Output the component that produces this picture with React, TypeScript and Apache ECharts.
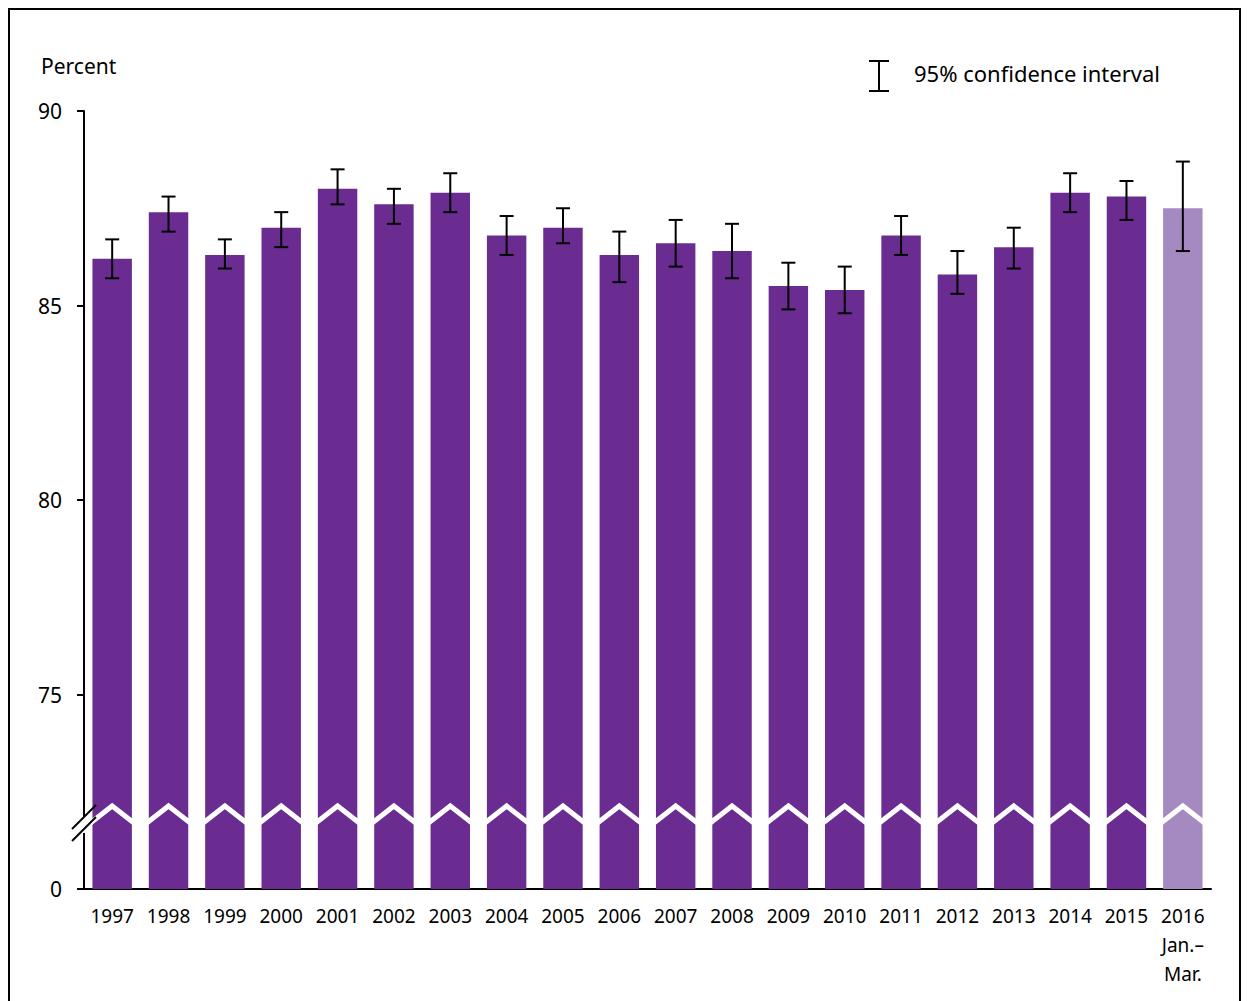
import * as echarts from 'echarts';
import React, { useEffect, useRef } from 'react';

const years = ['1997','1998','1999','2000','2001','2002','2003','2004','2005','2006','2007','2008','2009','2010','2011','2012','2013','2014','2015','2016\nJan.–\nMar.'];
const values = [86.2, 87.4, 86.3, 87.0, 88.0, 87.6, 87.9, 86.8, 87.0, 86.3, 86.6, 86.4, 85.5, 85.4, 86.8, 85.8, 86.5, 87.9, 87.8, 87.5];
const upper = [86.7, 87.8, 86.7, 87.4, 88.5, 88.0, 88.4, 87.3, 87.5, 86.9, 87.2, 87.1, 86.1, 86.0, 87.3, 86.4, 87.0, 88.4, 88.2, 88.7];
const lower = [85.7, 86.9, 85.95, 86.5, 87.6, 87.1, 87.4, 86.3, 86.6, 85.6, 86.0, 85.7, 84.9, 84.8, 86.3, 85.3, 85.95, 87.4, 87.2, 86.4];
const yTicks = [70, 75, 80, 85, 90];
const yLabels = ['0', '75', '80', '85', '90'];
const breakValue = 71.85;

const font = 'Noto Sans';

const App: React.FC = () => {
  const ref = useRef<HTMLDivElement>(null);

  useEffect(() => {
    const chart = echarts.init(ref.current, null, { renderer: 'svg' });
    chart.setOption({
      animation: false,
      textStyle: { fontFamily: font },
      grid: { left: 75, right: 31, top: 102, bottom: 120 },
      xAxis: {
        type: 'category',
        data: years,
        axisLine: { lineStyle: { color: '#000', width: 2 } },
        axisTick: { show: false },
        axisLabel: { color: '#000', fontSize: 19, lineHeight: 29, margin: 12, interval: 0, fontFamily: font },
      },
      yAxis: {
        type: 'value',
        min: 70,
        max: 90,
        interval: 5,
        axisLine: { show: true, lineStyle: { color: '#000', width: 2 } },
        axisTick: { show: true, length: 7, lineStyle: { color: '#000', width: 2 } },
        splitLine: { show: false },
        axisLabel: {
          color: '#000', fontSize: 21, margin: 22, fontFamily: font,
          formatter: (v: number) => yLabels[yTicks.indexOf(v)] ?? '',
        },
      },
      series: [
        {
          type: 'bar',
          barWidth: '70%',
          data: values.map((v, i) => ({
            value: v,
            itemStyle: { color: i === values.length - 1 ? '#a58ac1' : '#6a2c91' },
          })),
        },
        {
          type: 'custom',
          z: 5,
          data: values.map((_, i) => [i, breakValue]),
          renderItem: (params: any, api: any) => {
            const c = api.coord([api.value(0), api.value(1)]);
            const w = api.size([1, 0])[0];
            const h = 11;
            return {
              type: 'polyline',
              shape: { points: [[c[0] - w / 2, c[1] + h], [c[0], c[1] - h], [c[0] + w / 2, c[1] + h]] },
              style: { stroke: '#fff', lineWidth: 5, fill: null },
            };
          },
        },
        {
          type: 'custom',
          z: 6,
          data: values.map((_, i) => [i, lower[i], upper[i]]),
          renderItem: (params: any, api: any) => {
            const lo = api.coord([api.value(0), api.value(1)]);
            const hi = api.coord([api.value(0), api.value(2)]);
            const cw = 7;
            const st = { stroke: '#000', lineWidth: 2 };
            return {
              type: 'group',
              children: [
                { type: 'line', shape: { x1: hi[0], y1: hi[1], x2: lo[0], y2: lo[1] }, style: st },
                { type: 'line', shape: { x1: hi[0] - cw, y1: hi[1], x2: hi[0] + cw, y2: hi[1] }, style: st },
                { type: 'line', shape: { x1: lo[0] - cw, y1: lo[1], x2: lo[0] + cw, y2: lo[1] }, style: st },
              ],
            };
          },
        },
      ],
      graphic: [
        { type: 'text', left: 32, top: 46, style: { text: 'Percent', fontSize: 21, fill: '#000', fontFamily: font } },
        { type: 'rect', shape: { x: 70, y: 808, width: 12, height: 16 }, style: { fill: '#fff' }, z: 10 },
        { type: 'line', shape: { x1: 63, y1: 820, x2: 87, y2: 796 }, style: { stroke: '#000', lineWidth: 2 }, z: 11 },
        { type: 'line', shape: { x1: 63, y1: 832, x2: 87, y2: 808 }, style: { stroke: '#000', lineWidth: 2 }, z: 11 },
        { type: 'line', shape: { x1: 870, y1: 52, x2: 870, y2: 82 }, style: { stroke: '#000', lineWidth: 2 } },
        { type: 'line', shape: { x1: 860, y1: 52, x2: 880, y2: 52 }, style: { stroke: '#000', lineWidth: 2 } },
        { type: 'line', shape: { x1: 860, y1: 82, x2: 880, y2: 82 }, style: { stroke: '#000', lineWidth: 2 } },
        { type: 'text', left: 905, top: 53, style: { text: '95% confidence interval', fontSize: 22, fill: '#000', fontFamily: font } },
      ],
    });
    return () => chart.dispose();
  }, []);

  return (
    <div style={{ border: '2px solid #000', width: 1233, height: 1000, boxSizing: 'border-box', overflow: 'hidden' }}>
      <div ref={ref} style={{ width: 1233, height: 1000, marginLeft: -1, marginTop: -1 }} />
    </div>
  );
};

export default App;
